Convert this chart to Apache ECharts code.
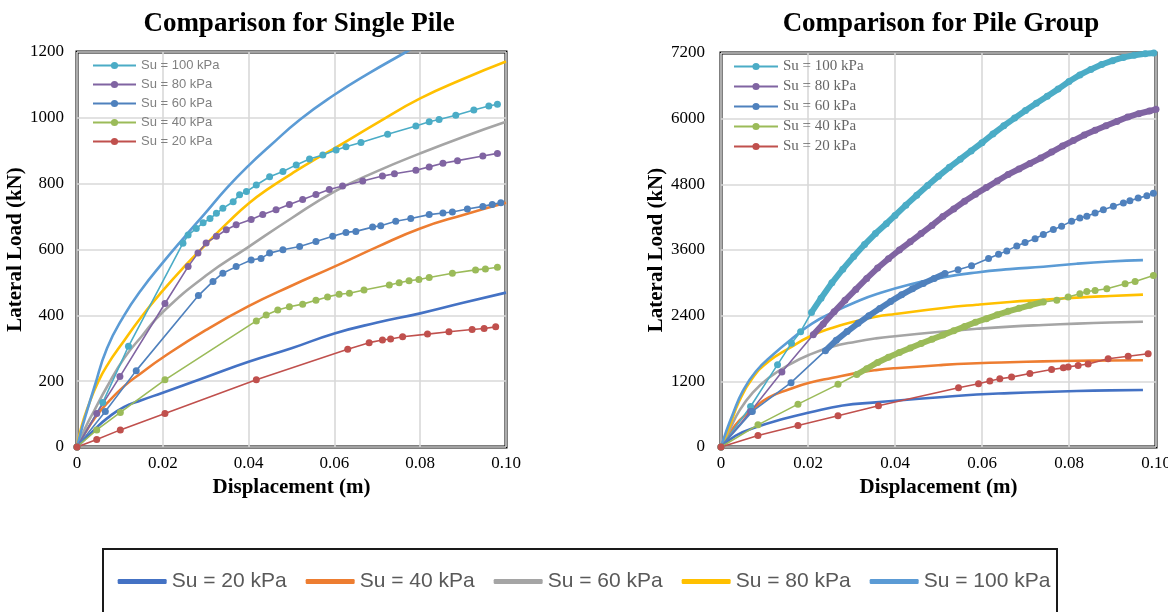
<!DOCTYPE html>
<html>
<head>
<meta charset="utf-8">
<title>Comparison for Single Pile / Pile Group</title>
<script src="https://cdn.jsdelivr.net/npm/echarts@6.0.0/dist/echarts.min.js"></script>
<style>
  html, body { margin: 0; padding: 0; background: #fff; }
  #chart { width: 1168px; height: 612px; }
</style>
</head>
<body>
<div id="chart"></div>
<script>
// tick labels
const xTickLabels = ['0', '0.02', '0.04', '0.06', '0.08', '0.10'];
const singleYTicks = ['0', '200', '400', '600', '800', '1000', '1200'];
const groupYTicks = ['0', '1200', '2400', '3600', '4800', '6000', '7200'];

const suNames = ['Su = 20 kPa', 'Su = 40 kPa', 'Su = 60 kPa', 'Su = 80 kPa', 'Su = 100 kPa'];

// ---- single pile: solid curves [displacement m, load kN]
const single20 = [[0,0],[0.004,52],[0.007,87],[0.011,122],[0.015,142],[0.02,165],[0.03,212],[0.04,259],[0.05,300],[0.06,345],[0.07,378],[0.08,406],[0.09,438],[0.1,469]];
const single40 = [[0,0],[0.002,45],[0.004,85],[0.007,133],[0.011,185],[0.015,225],[0.02,272],[0.03,355],[0.04,428],[0.05,490],[0.06,548],[0.07,608],[0.08,664],[0.09,705],[0.1,742]];
const single60 = [[0,0],[0.002,60],[0.004,110],[0.007,183],[0.011,270],[0.015,335],[0.02,410],[0.03,520],[0.04,608],[0.05,695],[0.06,776],[0.07,838],[0.08,892],[0.09,942],[0.1,988]];
const single80 = [[0,0],[0.001,60],[0.0025,120],[0.005,200],[0.0075,258],[0.01,305],[0.015,395],[0.02,475],[0.025,548],[0.03,615],[0.035,680],[0.04,740],[0.045,788],[0.05,830],[0.055,870],[0.06,907],[0.07,985],[0.08,1059],[0.09,1118],[0.1,1171]];
const single100 = [[0,0],[0.001,50],[0.002,95],[0.004,180],[0.007,300],[0.011,400],[0.015,478],[0.02,560],[0.025,637],[0.03,712],[0.035,788],[0.04,855],[0.045,915],[0.052,995],[0.06,1070],[0.068,1135],[0.0767,1200],[0.08,1225]];

// ---- single pile: marker curves
const singlePt100 = [[0,0],[0.006,135],[0.012,306],[0.0247,619],[0.0259,644],[0.0278,664],[0.0294,681],[0.031,694],[0.0325,710],[0.034,725],[0.0364,745],[0.0379,766],[0.0395,776],[0.0418,796],[0.0449,821],[0.048,837],[0.0511,857],[0.0542,875],[0.0573,887],[0.0604,902],[0.0627,912],[0.0662,925],[0.0724,950],[0.079,975],[0.0821,988],[0.0844,995],[0.0883,1008],[0.0925,1024],[0.096,1036],[0.098,1041]];
const singlePt80 = [[0,0],[0.0046,102],[0.01,214],[0.0205,436],[0.0259,548],[0.0282,589],[0.0301,620],[0.0325,640],[0.0348,660],[0.0371,675],[0.0406,691],[0.0433,706],[0.0464,721],[0.0495,737],[0.0526,752],[0.0557,767],[0.0588,782],[0.0619,793],[0.0666,808],[0.0712,823],[0.074,830],[0.079,841],[0.0821,851],[0.0853,862],[0.0887,870],[0.0946,884],[0.098,892]];
const singlePt60 = [[0,0],[0.0066,108],[0.0138,232],[0.0283,460],[0.0317,503],[0.034,528],[0.0371,548],[0.0406,568],[0.0429,573],[0.0449,589],[0.048,599],[0.0519,609],[0.0557,624],[0.0596,640],[0.0627,652],[0.065,655],[0.0689,668],[0.0708,672],[0.0743,686],[0.0778,694],[0.0821,706],[0.0853,711],[0.0875,714],[0.091,723],[0.0946,731],[0.0968,737],[0.0988,742]];
const singlePt40 = [[0,0],[0.0046,52],[0.0101,105],[0.0205,204],[0.0418,383],[0.0441,401],[0.0468,416],[0.0495,426],[0.0526,434],[0.0557,446],[0.0584,456],[0.0611,464],[0.0635,467],[0.0669,477],[0.0728,492],[0.0751,499],[0.0774,505],[0.0797,509],[0.0821,515],[0.0875,528],[0.0929,538],[0.0952,541],[0.098,546]];
const singlePt20 = [[0,0],[0.0046,23],[0.0101,52],[0.0205,102],[0.0418,204],[0.0631,297],[0.0681,317],[0.0712,325],[0.0731,328],[0.0759,335],[0.0817,343],[0.0867,350],[0.0921,357],[0.0949,360],[0.0976,365]];

// ---- pile group: solid curves
const group20 = [[0,0],[0.0034,210],[0.008,360],[0.0142,510],[0.0203,630],[0.028,760],[0.0356,815],[0.04,845],[0.0511,915],[0.0588,960],[0.0664,985],[0.0741,1005],[0.0818,1022],[0.0894,1035],[0.097,1042]];
const group40 = [[0,0],[0.0019,240],[0.0042,480],[0.0073,690],[0.011,905],[0.0157,1055],[0.0203,1175],[0.0257,1265],[0.031,1350],[0.0356,1405],[0.04,1440],[0.0511,1500],[0.0588,1530],[0.0664,1550],[0.0741,1565],[0.0818,1575],[0.0894,1582],[0.097,1585]];
const group60 = [[0,0],[0.0019,300],[0.0042,660],[0.0073,995],[0.011,1265],[0.0157,1505],[0.0203,1685],[0.0257,1835],[0.031,1925],[0.0356,1985],[0.04,2025],[0.0511,2110],[0.0588,2160],[0.0664,2200],[0.0741,2230],[0.0818,2255],[0.0894,2275],[0.097,2290]];
const group80 = [[0,0],[0.0019,360],[0.0042,840],[0.0073,1265],[0.011,1565],[0.0157,1805],[0.0203,2015],[0.0257,2180],[0.031,2300],[0.0356,2380],[0.04,2430],[0.0511,2540],[0.0588,2600],[0.0664,2650],[0.0741,2690],[0.0818,2730],[0.0894,2760],[0.097,2785]];
const group100 = [[0,0],[0.001,240],[0.0027,600],[0.005,1020],[0.008,1380],[0.012,1690],[0.0165,1990],[0.021,2260],[0.026,2470],[0.031,2650],[0.036,2800],[0.0434,2970],[0.0511,3100],[0.0588,3190],[0.0664,3250],[0.0741,3295],[0.0818,3350],[0.0894,3390],[0.097,3415]];

// ---- pile group: marker curves
const groupPt100 = [[0,0],[0.0068,740],[0.013,1505],[0.0162,1898],[0.0183,2108],[0.0208,2460],[0.023,2720],[0.0255,3000],[0.028,3250],[0.0305,3480],[0.033,3700],[0.0355,3900],[0.038,4080],[0.04,4230],[0.0425,4420],[0.045,4600],[0.0475,4780],[0.05,4950],[0.0525,5110],[0.055,5260],[0.0575,5410],[0.06,5560],[0.0625,5720],[0.065,5870],[0.0675,6010],[0.07,6150],[0.0725,6280],[0.075,6410],[0.0775,6540],[0.08,6680],[0.0825,6800],[0.085,6900],[0.0875,6990],[0.09,7060],[0.0925,7120],[0.095,7160],[0.0975,7185],[0.0995,7198]];
const groupPt80 = [[0,0],[0.0068,650],[0.014,1370],[0.0212,2050],[0.0235,2250],[0.026,2470],[0.0285,2680],[0.031,2880],[0.0335,3080],[0.036,3270],[0.0385,3440],[0.041,3600],[0.0435,3750],[0.046,3900],[0.0485,4050],[0.051,4210],[0.0535,4350],[0.056,4490],[0.0585,4620],[0.061,4740],[0.0635,4860],[0.066,4980],[0.0685,5080],[0.071,5180],[0.0735,5280],[0.076,5390],[0.0785,5500],[0.081,5600],[0.0835,5700],[0.086,5790],[0.0885,5870],[0.091,5950],[0.0935,6030],[0.096,6090],[0.0985,6140],[0.1,6170]];
const groupPt60 = [[0,0],[0.0072,650],[0.0161,1175],[0.024,1760],[0.0265,1950],[0.029,2110],[0.0315,2260],[0.034,2400],[0.0365,2530],[0.039,2660],[0.0415,2780],[0.044,2890],[0.0465,2990],[0.049,3080],[0.0515,3170],[0.0545,3240],[0.0576,3313],[0.0615,3446],[0.0638,3524],[0.0657,3584],[0.068,3675],[0.0699,3735],[0.0722,3807],[0.0741,3885],[0.0764,3976],[0.0783,4036],[0.0806,4126],[0.0825,4187],[0.0841,4217],[0.086,4277],[0.0879,4337],[0.0902,4398],[0.0925,4458],[0.094,4500],[0.0959,4548],[0.0979,4590],[0.0994,4638]];
const groupPt40 = [[0,0],[0.0085,405],[0.0177,783],[0.0269,1145],[0.0312,1325],[0.0335,1430],[0.036,1545],[0.0385,1640],[0.041,1725],[0.0435,1810],[0.046,1890],[0.0485,1970],[0.051,2045],[0.0535,2125],[0.056,2200],[0.0585,2280],[0.061,2345],[0.0635,2415],[0.066,2480],[0.0685,2535],[0.071,2590],[0.0741,2651],[0.0772,2681],[0.0798,2741],[0.0825,2801],[0.0841,2843],[0.086,2861],[0.0887,2892],[0.0929,2982],[0.0952,3024],[0.0994,3132]];
const groupPt20 = [[0,0],[0.0085,210],[0.0177,392],[0.0269,572],[0.0362,753],[0.0546,1084],[0.0592,1157],[0.0618,1205],[0.0641,1247],[0.0668,1277],[0.071,1343],[0.076,1416],[0.0787,1446],[0.0798,1464],[0.0821,1488],[0.0844,1518],[0.089,1614],[0.0936,1657],[0.0982,1705]];

// where the group markers sit so close they read as a thick band
const bandRange100 = [0.0208, 0.1];
const bandRange80 = [0.0212, 0.1];
const bandRange60 = [0.024, 0.0515];
const bandRange40 = [0.0312, 0.0741];

const solidColors = ['#4472C4', '#ED7D31', '#A5A5A5', '#FFC000', '#5B9BD5'];
const ptColors = ['#C0504D', '#9BBB59', '#4F81BD', '#8064A2', '#4BACC6'];

const serif = 'Liberation Serif, Times New Roman, serif';
const sans = 'Liberation Sans, Arial, sans-serif';
const ptName = n => 'pt|' + n;

const chart = echarts.init(document.getElementById('chart'));

function solid(name, data, color, idx) {
  return {
    name: name, type: 'line', xAxisIndex: idx, yAxisIndex: idx,
    data: data, symbol: 'none', smooth: 0.5,
    lineStyle: { color: color, width: 2.6 }, itemStyle: { color: color },
    emphasis: { disabled: true }, z: 2
  };
}
function marked(name, data, color, idx) {
  return {
    name: ptName(name), type: 'line', xAxisIndex: idx, yAxisIndex: idx,
    data: data, symbol: 'circle', symbolSize: 7, showAllSymbol: true,
    lineStyle: { color: color, width: 1.6 }, itemStyle: { color: color },
    emphasis: { disabled: true }, z: 3
  };
}
function band(name, data, range, color, idx) {
  return {
    name: ptName(name), type: 'line', xAxisIndex: idx, yAxisIndex: idx,
    data: data.filter(p => p[0] >= range[0] && p[0] <= range[1]),
    symbol: 'none', lineStyle: { color: color, width: 6 },
    itemStyle: { color: color }, emphasis: { disabled: true }, z: 3
  };
}

const singleSolid = [single20, single40, single60, single80, single100];
const groupSolid = [group20, group40, group60, group80, group100];
const singlePts = [singlePt20, singlePt40, singlePt60, singlePt80, singlePt100];
const groupPts = [groupPt20, groupPt40, groupPt60, groupPt80, groupPt100];

const series = [];
// marker series first so the inner legends take their look (line + dot)
for (let i = 4; i >= 0; i--) series.push(marked(suNames[i], singlePts[i], ptColors[i], 0));
for (let i = 4; i >= 0; i--) series.push(marked(suNames[i], groupPts[i], ptColors[i], 1));
series.push(band(suNames[4], groupPt100, bandRange100, ptColors[4], 1));
series.push(band(suNames[3], groupPt80, bandRange80, ptColors[3], 1));
series.push(band(suNames[2], groupPt60, bandRange60, ptColors[2], 1));
series.push(band(suNames[1], groupPt40, bandRange40, ptColors[1], 1));
for (let i = 0; i < 5; i++) series.push(solid(suNames[i], singleSolid[i], solidColors[i], 0));
for (let i = 0; i < 5; i++) series.push(solid(suNames[i], groupSolid[i], solidColors[i], 1));

function xAxis(idx) {
  return {
    type: 'value', gridIndex: idx, min: 0, max: 0.1, interval: 0.02,
    name: 'Displacement (m)', nameLocation: 'middle', nameGap: 30,
    nameTextStyle: { fontFamily: serif, fontWeight: 'bold', fontSize: 21, color: '#000' },
    axisLine: { show: false }, axisTick: { show: false },
    axisLabel: {
      margin: 8, fontFamily: serif, fontSize: 17, color: '#000',
      showMinLabel: true, showMaxLabel: true,
      formatter: v => xTickLabels[Math.round(v / 0.02)]
    },
    splitLine: { show: true, lineStyle: { color: '#d9d9d9', width: 1.6 } }
  };
}
function yAxis(idx, max, step, ticks, gap, margin) {
  return {
    type: 'value', gridIndex: idx, min: 0, max: max, interval: step,
    name: 'Lateral Load (kN)', nameLocation: 'middle', nameGap: gap,
    nameTextStyle: { fontFamily: serif, fontWeight: 'bold', fontSize: 21, color: '#000' },
    axisLine: { show: false }, axisTick: { show: false },
    axisLabel: {
      margin: margin, fontFamily: serif, fontSize: 17, color: '#000',
      showMinLabel: true, showMaxLabel: true,
      formatter: v => ticks[Math.round(v / step)]
    },
    splitLine: { show: true, lineStyle: { color: '#d9d9d9', width: 1.6 } }
  };
}

const innerLegendNames = [4, 3, 2, 1, 0].map(i => ptName(suNames[i]));

chart.setOption({
  animation: false,
  backgroundColor: '#fff',
  title: [
    { text: 'Comparison for Single Pile', left: 294, top: 6, textAlign: 'center',
      textStyle: { fontFamily: serif, fontWeight: 'bold', fontSize: 27, color: '#000' } },
    { text: 'Comparison for Pile Group', left: 936, top: 6, textAlign: 'center',
      textStyle: { fontFamily: serif, fontWeight: 'bold', fontSize: 27, color: '#000' } }
  ],
  grid: [
    { left: 77, right: 662, top: 52, bottom: 165, show: true, borderColor: '#000', borderWidth: 3, outerBoundsMode: 'none' },
    { left: 721, right: 12, top: 53, bottom: 165, show: true, borderColor: '#000', borderWidth: 3, outerBoundsMode: 'none' }
  ],
  xAxis: [xAxis(0), xAxis(1)],
  yAxis: [yAxis(0, 1200, 200, singleYTicks, 42, 13), yAxis(1, 7200, 1200, groupYTicks, 50, 16)],
  legend: [
    { data: innerLegendNames, orient: 'vertical', left: 92, top: 59, padding: 0,
      itemWidth: 43, itemHeight: 9, itemGap: 6, selectedMode: false,
      formatter: n => n.replace('pt|', ''),
      textStyle: { fontFamily: sans, fontSize: 13, color: '#808080' } },
    { data: innerLegendNames, orient: 'vertical', left: 733, top: 59, padding: 0,
      itemWidth: 44, itemHeight: 9, itemGap: 5, selectedMode: false,
      formatter: n => n.replace('pt|', ''),
      textStyle: { fontFamily: serif, fontSize: 15, color: '#666' } },
    { data: suNames, orient: 'horizontal', left: 'center', top: 571, padding: 0,
      icon: 'roundRect', itemWidth: 49, itemHeight: 5, itemGap: 19, selectedMode: false,
      textStyle: { fontFamily: sans, fontSize: 21, color: '#595959' } }
  ],
  graphic: [
    { type: 'rect', shape: { x: 103, y: 549, width: 954, height: 80 },
      style: { fill: 'none', stroke: '#1a1a1a', lineWidth: 2 }, silent: true, z: -1 }
  ],
  series: series
});
</script>
</body>
</html>
